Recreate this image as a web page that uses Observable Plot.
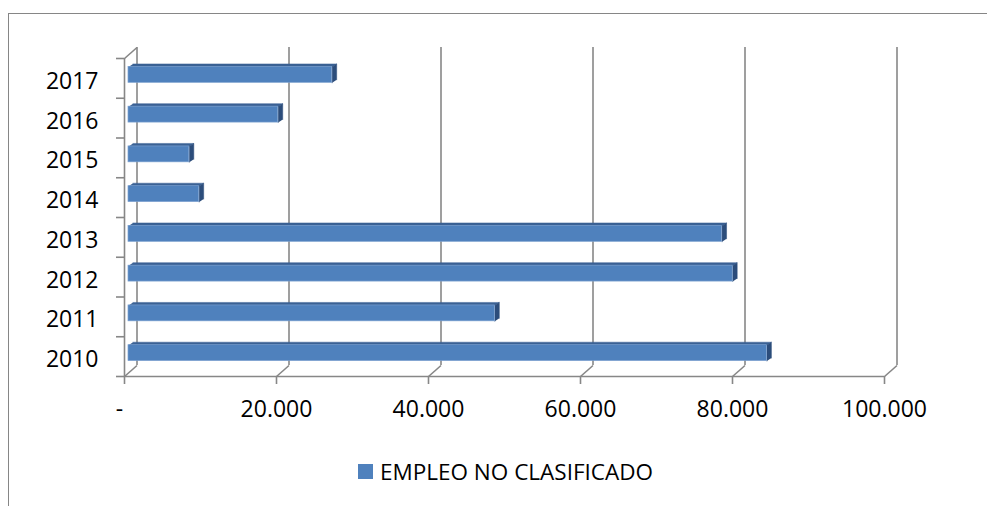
<!DOCTYPE html>
<html>
<head>
<meta charset="utf-8">
<script src="https://cdn.jsdelivr.net/npm/d3@7"></script>
<script src="https://cdn.jsdelivr.net/npm/@observablehq/plot@0.6"></script>
<style>
  html, body { margin: 0; padding: 0; background: #fff; }
  #wrap { position: relative; width: 987px; height: 506px; overflow: hidden; font-family: "Open Sans", "Liberation Sans", Arial, sans-serif; }
  #frame { position: absolute; left: 8px; top: 13px; right: -10px; bottom: -10px; border-left: 1px solid #868686; border-top: 1px solid #868686; }
  #chart { position: absolute; left: 0; top: 0; }
  #legend { position: absolute; left: 358px; top: 456px; display: flex; align-items: center; font-size: 22.5px; color: #000; white-space: nowrap; }
  #legend .sw { width: 15px; height: 15px; background: #4F81BD; margin-right: 7px; }
</style>
</head>
<body>
<div id="wrap">
  <div id="frame"></div>
  <div id="chart"></div>
  <div id="legend"><span class="sw"></span><span id="legtext"></span></div>
</div>
<script>
// ---- data ----
const years = ["2010", "2011", "2012", "2013", "2014", "2015", "2016", "2017"];
const values = [84000, 48200, 79500, 78100, 9300, 8000, 19700, 26800];
const xTicks = [0, 20000, 40000, 60000, 80000, 100000];
const xTickLabels = ["-", "20.000", "40.000", "60.000", "80.000", "100.000"];
const seriesName = "EMPLEO NO CLASIFICADO";

// ---- layout ----
const W = 987, H = 440, ML = 124, MR = 103, MT = 58, MB = 64;
const xMax = 100000;
const nCat = years.length;
const uX = xMax / (W - ML - MR);   // data units per pixel (x)
const uY = nCat / (H - MT - MB);   // data units per pixel (y)
const wallDX = 12.5 * uX, wallDY = 11 * uY;  // 3D wall depth
const barDX = 4.5 * uX, barDY = 3 * uY;       // bar depth
const barLo = 0.3, barHi = 0.7;
const grid = "#878787";

const rows = years.map((year, i) => ({year, value: values[i], i}));

const topFaces = rows.flatMap(d => [
  {k: d.year, x: 0, y: d.i + barHi},
  {k: d.year, x: d.value, y: d.i + barHi},
  {k: d.year, x: d.value + barDX, y: d.i + barHi + barDY},
  {k: d.year, x: barDX, y: d.i + barHi + barDY}
]);
const sideFaces = rows.flatMap(d => [
  {k: d.year, x: d.value, y: d.i + barLo},
  {k: d.year, x: d.value, y: d.i + barHi},
  {k: d.year, x: d.value + barDX, y: d.i + barHi + barDY},
  {k: d.year, x: d.value + barDX, y: d.i + barLo + barDY}
]);
const boundaries = d3.range(0, nCat + 1);
const centers = years.map((_, i) => i + 0.5);

const plot = Plot.plot({
  width: W, height: H,
  marginLeft: ML, marginRight: MR, marginTop: MT, marginBottom: MB,
  style: {fontFamily: "Open Sans, Liberation Sans, Arial, sans-serif", fontSize: "23px", color: "#000", background: "transparent"},
  x: {domain: [0, xMax], range: [ML, W - MR]},
  y: {domain: [0, nCat], range: [H - MB, MT]},
  marks: [
    // back wall gridlines
    Plot.ruleX(xTicks, {x: d => d + wallDX, y1: wallDY, y2: nCat + wallDY, stroke: grid, strokeWidth: 1.6}),
    // floor diagonals
    Plot.link(xTicks, {x1: d => d, y1: 0, x2: d => d + wallDX, y2: wallDY, stroke: grid, strokeWidth: 1.6}),
    // left wall top diagonal
    Plot.link([0], {x1: 0, y1: nCat, x2: wallDX, y2: nCat + wallDY, stroke: grid, strokeWidth: 1.6}),
    // left axis line and floor front line
    Plot.ruleX([0], {stroke: grid, strokeWidth: 1.6}),
    Plot.ruleY([0], {stroke: grid, strokeWidth: 1.6}),
    // y tick marks at category boundaries
    Plot.axisY({ticks: boundaries, tickFormat: () => "", tickSize: 8, stroke: grid, strokeWidth: 1.6, label: null}),
    // y labels
    Plot.axisY({ticks: centers, tickFormat: d => years[Math.floor(d)], tickSize: 0, tickPadding: 26, dy: 3, fontSize: 23, label: null}),
    // x axis ticks
    Plot.axisX({ticks: xTicks, tickFormat: () => "", tickSize: 8, stroke: grid, strokeWidth: 1.6, label: null}),
    // x axis labels (zero label "-" sits slightly left)
    Plot.axisX({ticks: xTicks.slice(1), tickFormat: d => xTickLabels[xTicks.indexOf(d)], tickSize: 0, tickPadding: 24, fontSize: 23, label: null}),
    Plot.axisX({ticks: xTicks.slice(0, 1), tickFormat: d => xTickLabels[xTicks.indexOf(d)], tickSize: 0, tickPadding: 24, dx: -5, fontSize: 23, label: null}),
    // bars: top faces, side faces, front faces
    Plot.line(topFaces, {x: "x", y: "y", z: "k", fill: "#3A6194", stroke: "#3A6194", strokeWidth: 0.5, curve: "linear", dx: 4, dy: -3.5}),
    Plot.line(sideFaces, {x: "x", y: "y", z: "k", fill: "#2C4D7B", stroke: "#2C4D7B", strokeWidth: 0.5, curve: "linear", dx: 4, dy: -3.5}),
    Plot.rectX(rows, {x1: 0, x2: "value", y1: d => d.i + barLo, y2: d => d.i + barHi, fill: "#4F81BD", stroke: "#7BA0CF", strokeWidth: 0.7, dx: 4, dy: -3.5})
  ]
});
document.getElementById("chart").appendChild(plot);
document.getElementById("legtext").textContent = seriesName;
</script>
</body>
</html>
